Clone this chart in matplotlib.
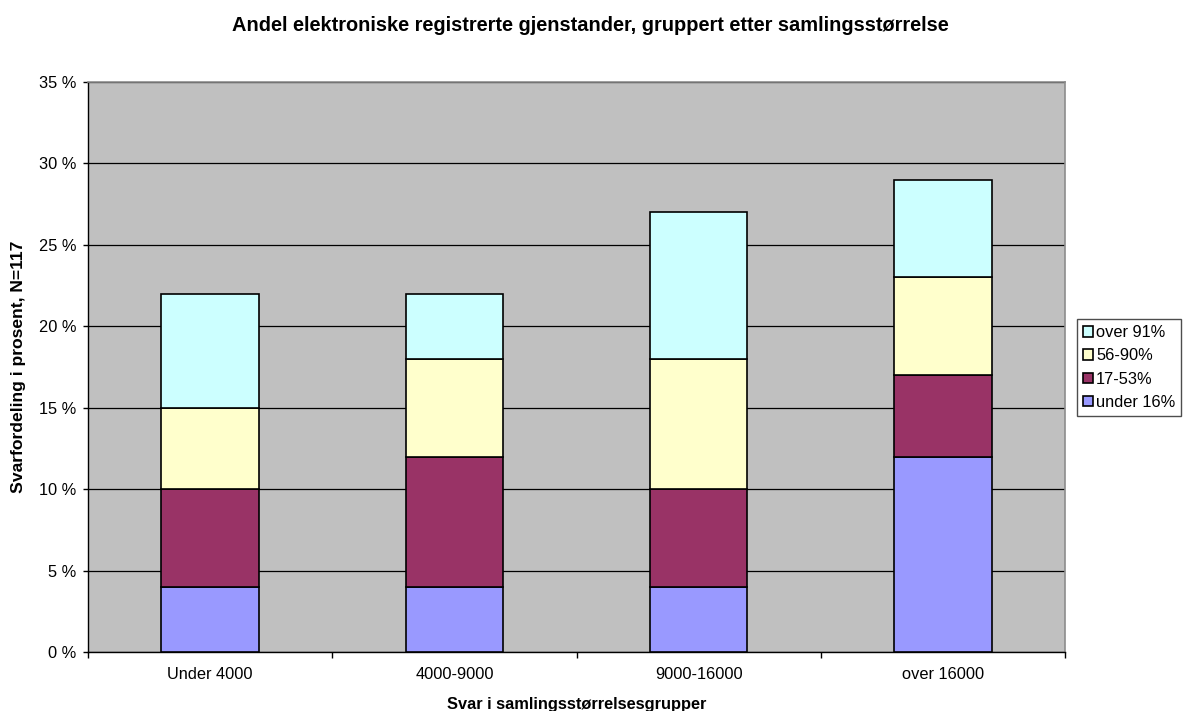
import matplotlib
matplotlib.use("Agg")
import matplotlib.pyplot as plt
import numpy as np

plt.rcParams['font.family'] = ['Liberation Sans', 'DejaVu Sans']

categories = ["Under 4000", "4000-9000", "9000-16000", "over 16000"]
series_names = ["under 16%", "17-53%", "56-90%", "over 91%"]
under16 = [4, 4, 4, 12]
s17_53 = [6, 8, 6, 5]
s56_90 = [5, 6, 8, 6]
over91 = [7, 4, 9, 6]
colors = ["#9999FF", "#993366", "#FFFFCC", "#CCFFFF"]
yticks = [0, 5, 10, 15, 20, 25, 30, 35]
ytick_labels = ["0 %", "5 %", "10 %", "15 %", "20 %", "25 %", "30 %", "35 %"]

W, H = 1185, 711
FS = 11.8

fig = plt.figure(figsize=(W / 100, H / 100), dpi=100)
ax = fig.add_axes([88 / W, 59 / H, 977 / W, 570 / H])
ax.set_facecolor("#C0C0C0")

x = np.arange(len(categories))
bottom = np.zeros(len(categories))
handles = []
for name, vals, c in zip(series_names, [under16, s17_53, s56_90, over91], colors):
    b = ax.bar(x, vals, width=0.40, bottom=bottom, color=c, edgecolor="black",
               linewidth=1.2, label=name, zorder=3)
    handles.append(b)
    bottom += np.array(vals)

ax.set_xlim(-0.5, len(categories) - 0.5)
ax.set_ylim(0, 35)
ax.set_yticks(yticks)
ax.set_yticklabels(ytick_labels, fontsize=FS)
ax.yaxis.grid(True, color="black", linewidth=0.9, zorder=1)
ax.set_axisbelow(True)

ax.set_xticks(x)
ax.set_xticklabels(categories, fontsize=FS)
ax.tick_params(axis='x', which='major', length=0, pad=11)
ax.set_xticks(np.arange(-0.5, len(categories)), minor=True)
ax.tick_params(axis='x', which='minor', length=4, width=1, color="black")
ax.tick_params(axis='y', length=3.6, width=1, color="black", pad=5)

for s in ["left", "bottom"]:
    ax.spines[s].set_color("black")
    ax.spines[s].set_linewidth(1)
for s in ["top", "right"]:
    ax.spines[s].set_color("#8C8C8C")
    ax.spines[s].set_linewidth(1.2)

fig.text(576.5 / W, 1.5 / H, "Svar i samlingsstørrelsesgrupper",
         ha="center", va="baseline", fontsize=FS, fontweight="bold")
fig.text(19 / W, 1 - 367 / H, "Svarfordeling i prosent, N=117", rotation=90,
         ha="center", va="center", fontsize=12.6, fontweight="bold")
fig.text(590 / W, 1 - 31 / H,
         "Andel elektroniske registrerte gjenstander, gruppert etter samlingsstørrelse",
         ha="center", va="baseline", fontsize=14.4, fontweight="bold")

leg = fig.legend(handles[::-1], series_names[::-1], loc="center left",
                 bbox_to_anchor=(1077 / W, 1 - 367.5 / H), fontsize=FS,
                 frameon=True, fancybox=False, edgecolor="#202020", handlelength=0.6,
                 handleheight=0.6, handletextpad=0.22, borderpad=0.35, labelspacing=0.5,
                 borderaxespad=0)
leg.get_frame().set_linewidth(1)

fig.savefig("out.png", dpi=100, facecolor="white")
